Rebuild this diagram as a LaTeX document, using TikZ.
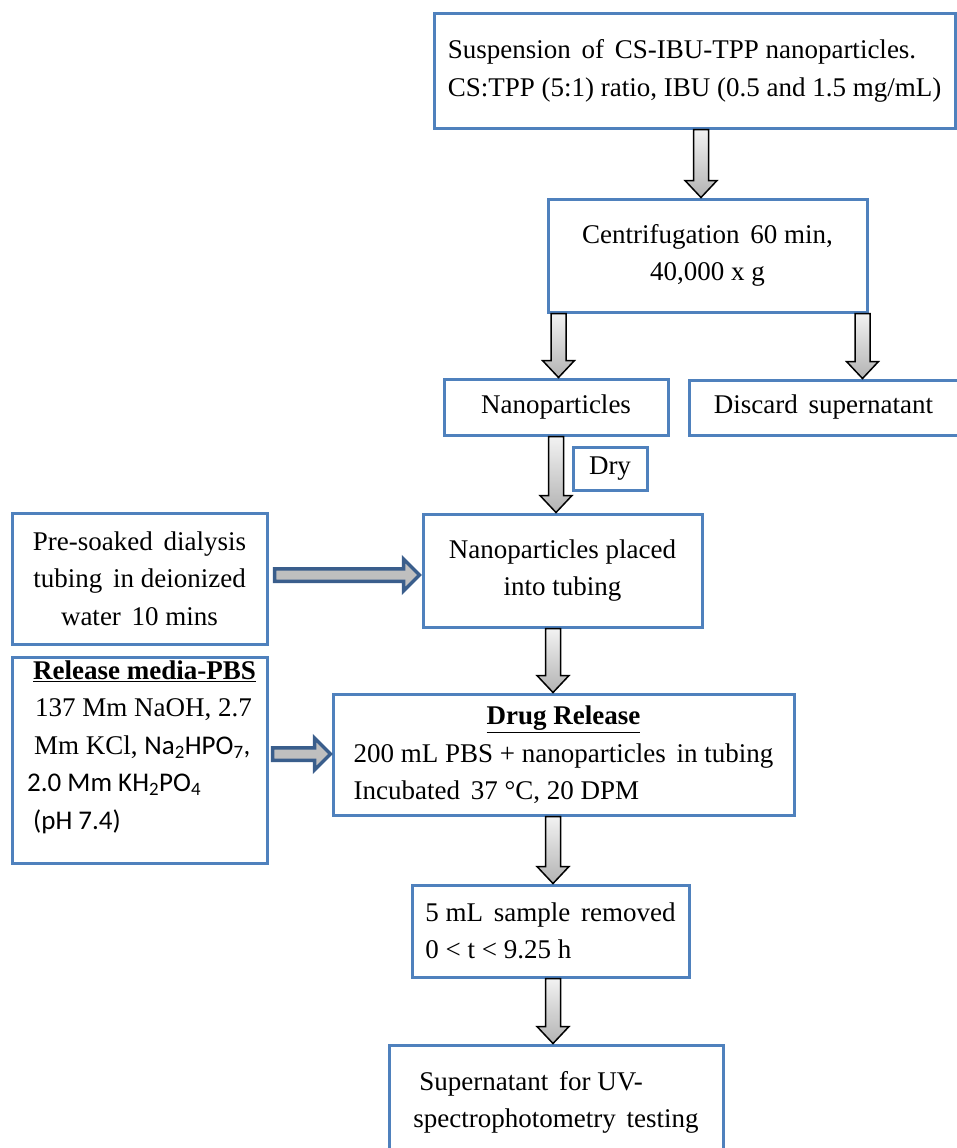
\documentclass[tikz,border=0pt]{standalone}
\usepackage{fontspec}
\setmainfont{Liberation Serif}
\newfontfamily\calibri{Carlito}
\usetikzlibrary{calc}
\definecolor{boxblue}{HTML}{4F81BD}
\definecolor{arrowblue}{HTML}{3A5E8C}
\newcommand{\wsp}{\hspace{4pt}}
\tikzset{
  procbox/.style={draw=boxblue, line width=3pt, fill=white, inner sep=0pt, align=center},
  downblock/.style={draw=black, line width=1.5pt, top color=black!5, bottom color=black!30},
  sideblock/.style={draw=arrowblue, line width=3.5pt, fill=black!25},
}
\newcommand{\blockdown}[2]{%
  \path[downblock] let \p1=(#1), \p2=(#2) in
    (\x1-7.5pt,\y1) -- (\x1+7.5pt,\y1) -- (\x1+7.5pt,\y2+17pt) -- (\x1+16pt,\y2+17pt)
    -- (\x1,\y2) -- (\x1-16pt,\y2+17pt) -- (\x1-7.5pt,\y2+17pt) -- cycle;}
\newcommand{\blockright}[2]{%
  \path[sideblock] let \p1=(#1), \p2=(#2) in
    (\x1,\y1+6.25pt) -- (\x2-16pt,\y1+6.25pt) -- (\x2-16pt,\y1+16pt) -- (\x2,\y1)
    -- (\x2-16pt,\y1-16pt) -- (\x2-16pt,\y1-6.25pt) -- (\x1,\y1-6.25pt) -- cycle;}

\begin{document}
\begin{tikzpicture}[x=1pt, y=-1pt, font=\fontsize{27}{37.5}\selectfont]
\useasboundingbox[fill=white] (0,0) rectangle (957,1148);

\node[procbox, minimum width=521, minimum height=114, align=left] (susp) at (694.5,71)
  {Suspension\wsp{} of\wsp{} CS-IBU-TPP nanoparticles.\\CS:TPP (5:1) ratio, IBU (0.5 and 1.5 mg/mL)};
\node[procbox, minimum width=319, minimum height=113] (cent) at (707.5,255.5)
  {Centrifugation\wsp{} 60 min,\\40,000 x g};
\node[procbox, minimum width=224, minimum height=56] (nano) at (556,407) {Nanoparticles};
\node[procbox, minimum width=269, minimum height=55] (discard) at (823.5,407.5) {Discard\wsp{} supernatant};
\node[procbox, minimum width=74, minimum height=43] (dry) at (610,468.5) {Dry};
\node[procbox, minimum width=279, minimum height=113] (tubing) at (562.5,570.5)
  {Nanoparticles placed\\into tubing};
\node[procbox, minimum width=255, minimum height=131] (soak) at (139.5,578.5)
  {Pre-soaked\wsp{} dialysis\\tubing\wsp{} in deionized\\water\wsp{} 10 mins};
\node[procbox, minimum width=255, minimum height=206] (media) at (139.5,760) {};
\node[anchor=north west, inner sep=0pt] (mediatext) at (27,653) {%
  \begin{tabular}{@{}l@{}}
  \multicolumn{1}{c}{\underline{\textbf{Release media-PBS}}}\\
  \hspace*{8pt}137 Mm NaOH, 2.7\\
  \hspace*{7pt}Mm KCl, {\calibri Na\textsubscript{2}HPO\textsubscript{7},}\\
  {\calibri 2.0 Mm KH\textsubscript{2}PO\textsubscript{4}}\\
  {\calibri\hspace*{6pt}(pH 7.4)}
  \end{tabular}};
\node[procbox, minimum width=461, minimum height=121] (release) at (563.5,754.5) {%
  \begin{tabular}{@{}l@{}}
  \multicolumn{1}{c}{\underline{\textbf{Drug Release}}}\\
  200 mL PBS + nanoparticles\wsp{} in tubing\\
  Incubated\wsp{} 37 °C, 20 DPM
  \end{tabular}};
\node[procbox, minimum width=277, minimum height=92, align=left] (sample) at (550.5,931)
  {5 mL\wsp{} sample\wsp{} removed\\0 < t < 9.25 h};
\node[procbox, minimum width=334, minimum height=115, align=left] (uvtest) at (556,1102.5)
  {\hspace*{6pt}Supernatant\wsp{} for UV-\\spectrophotometry\wsp{} testing};

\blockdown{$(susp.south)+(6.5,0)$}{cent.north}
\blockdown{$(cent.south west)+(12,0)$}{nano.north}
\blockdown{$(cent.south east)+(-6,0)$}{discard.north}
\blockdown{nano.south}{tubing.north}
\blockdown{$(tubing.south)+(-9.5,0)$}{release.north}
\blockdown{$(release.south)+(-10.5,0)$}{sample.north}
\blockdown{$(sample.south)+(2.5,0)$}{uvtest.north}
\blockright{$(soak.east)+(6,-3.5)$}{$(tubing.west)+(-2,0)$}
\blockright{$(media.east)+(4,-6)$}{$(release.west)+(-1,0)$}
\end{tikzpicture}
\end{document}
